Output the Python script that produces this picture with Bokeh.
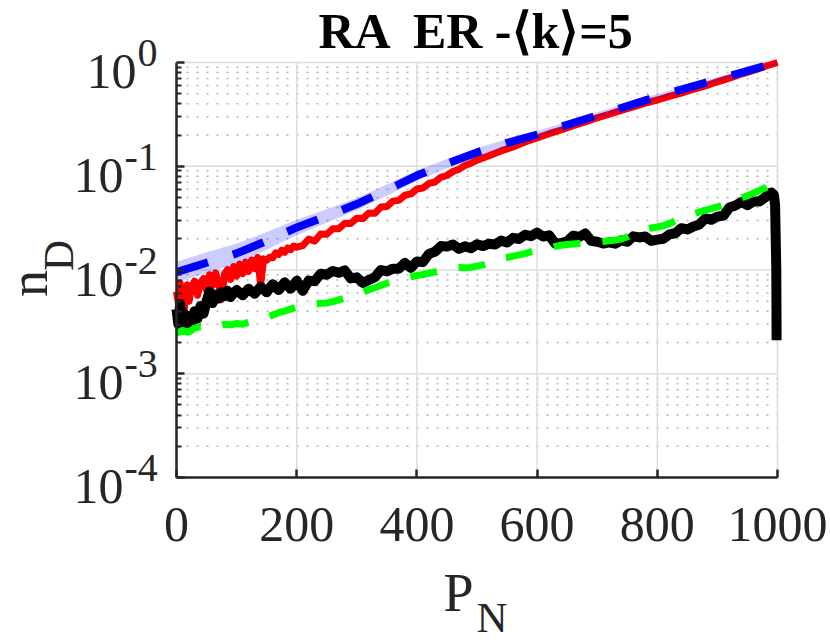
from bokeh.plotting import figure
from bokeh.models import (Range1d, FixedTicker, Label, LinearAxis, LogAxis,
                          LogScale, Grid)
from bokeh.embed import file_html
from bokeh.resources import INLINE

# ---------------- data ----------------
band_P = [0, 50, 100, 150, 200, 250, 300, 350, 400, 450, 500, 550, 600, 650,
          700, 750, 800, 850, 900, 950, 1000]
blue_vals = [0.00955, 0.01175, 0.01445, 0.01905, 0.0257, 0.0331, 0.0432, 0.0589,
             0.0813, 0.106, 0.136, 0.168, 0.202, 0.251, 0.309, 0.380, 0.470,
             0.569, 0.687, 0.832, 1.0]
band_upper = [0.0120, 0.0148, 0.0180, 0.0232, 0.0305, 0.0385, 0.0495, 0.0668,
              0.0912, 0.1175, 0.150, 0.182, 0.219, 0.269, 0.331, 0.407, 0.498,
              0.603, 0.719, 0.871, 1.0]
band_lower = [0.00759, 0.00933, 0.01161, 0.01567, 0.0216, 0.0285, 0.0376, 0.0519,
              0.0724, 0.0955, 0.1245, 0.155, 0.186, 0.234, 0.288, 0.355, 0.444,
              0.537, 0.656, 0.794, 0.955]

red_P = [0, 3, 6, 9, 12, 15, 18, 21, 25, 30, 35, 40, 45, 50, 55, 60, 65, 70, 75,
         80, 85, 90, 95, 100, 105, 110, 115, 120, 125, 130, 135, 140, 145, 150,
         155, 160, 165, 170, 175, 180, 185, 190, 195, 200, 210, 220, 230, 240,
         250, 260, 270, 280, 290, 300, 310, 320, 330, 340, 350, 360, 370, 380,
         390, 400, 410, 420, 430, 440, 450, 460, 470, 480, 490, 500, 520, 540,
         560, 580, 600, 620, 640, 660, 680, 700, 720, 740, 760, 780, 800, 820,
         840, 860, 880, 900, 920, 940, 960, 980, 1000]
red_vals = [0.0062, 0.0048, 0.0075, 0.0044, 0.0034, 0.0060, 0.0072, 0.0050,
            0.0069, 0.0078, 0.0057, 0.0075, 0.0083, 0.0064, 0.0090, 0.0071,
            0.0094, 0.0074, 0.0052, 0.0092, 0.0101, 0.0081, 0.0108, 0.0087,
            0.0114, 0.0092, 0.0119, 0.0097, 0.0125, 0.0103, 0.0132, 0.0072,
            0.0128, 0.0124, 0.0133, 0.0131, 0.0146, 0.0141, 0.0155, 0.0148,
            0.0163, 0.0157, 0.0170, 0.0166, 0.0172, 0.0199, 0.0190, 0.0222,
            0.0221, 0.0250, 0.0250, 0.0282, 0.0281, 0.0316, 0.0313, 0.0354,
            0.0352, 0.0404, 0.0409, 0.0461, 0.0469, 0.0525, 0.0541, 0.0604,
            0.0617, 0.0683, 0.0705, 0.0782, 0.0814, 0.0890, 0.0938, 0.1015,
            0.1070, 0.1145, 0.1265, 0.1405, 0.1535, 0.1715, 0.1875, 0.2060,
            0.2235, 0.2460, 0.2670, 0.2930, 0.3170, 0.3460, 0.3730, 0.4060,
            0.4350, 0.4720, 0.5060, 0.5520, 0.5960, 0.6520, 0.7060, 0.7740,
            0.8400, 0.9200, 1.0]

black_P = [0, 3, 6, 9, 12, 15, 20, 25, 30, 35, 40, 45, 50, 55, 60, 65, 70, 75,
           80, 85, 90, 95, 100, 110, 120, 130, 140, 150, 160, 170, 180, 190,
           200, 210, 220, 230, 240, 250, 260, 270, 280, 290, 300, 310, 320, 330,
           340, 350, 360, 370, 380, 390, 400, 410, 420, 430, 440, 450, 460, 470,
           480, 490, 500, 510, 520, 530, 540, 550, 560, 570, 580, 590, 600, 610,
           620, 630, 640, 650, 660, 670, 680, 690, 700, 710, 720, 730, 740, 750,
           760, 770, 780, 790, 800, 810, 820, 830, 840, 850, 860, 870, 880, 890,
           900, 910, 920, 930, 940, 950, 960, 970, 980, 985, 990, 994, 996, 998,
           998.5]
black_vals = [0.0042, 0.0030, 0.0047, 0.0028, 0.0038, 0.0032, 0.0036, 0.0029,
              0.0040, 0.0034, 0.0045, 0.0038, 0.0050, 0.0062, 0.0048, 0.0058,
              0.0053, 0.0061, 0.0056, 0.0063, 0.0055, 0.0060, 0.0064, 0.0057,
              0.0066, 0.0059, 0.0069, 0.0061, 0.0073, 0.0064, 0.0076, 0.0066,
              0.0079, 0.0063, 0.0079, 0.0078, 0.0092, 0.0090, 0.0098, 0.0094,
              0.0099, 0.0083, 0.0085, 0.0075, 0.0080, 0.0085, 0.0100, 0.0097,
              0.0103, 0.0103, 0.0117, 0.0105, 0.0121, 0.0119, 0.0143, 0.0150,
              0.0170, 0.0168, 0.0176, 0.0160, 0.0169, 0.0162, 0.0177, 0.0170,
              0.0179, 0.0176, 0.0192, 0.0184, 0.0204, 0.0199, 0.0218, 0.0212,
              0.0229, 0.0210, 0.0216, 0.0180, 0.0182, 0.0189, 0.0214, 0.0208,
              0.0225, 0.0191, 0.0187, 0.0180, 0.0185, 0.0179, 0.0194, 0.0187,
              0.0211, 0.0206, 0.0210, 0.0191, 0.0196, 0.0200, 0.0220, 0.0226,
              0.0253, 0.0246, 0.0263, 0.0275, 0.0314, 0.0305, 0.0327, 0.0334,
              0.0400, 0.0418, 0.0453, 0.0421, 0.0457, 0.0458, 0.0504, 0.0548,
              0.0558, 0.0530, 0.0420, 0.0100, 0.0021]

green_P = [0, 10, 20, 30, 40, 50, 60, 70, 80, 90, 100, 110, 120, 130, 140, 150,
           160, 170, 180, 190, 200, 210, 220, 230, 240, 250, 260, 270, 280, 290,
           300, 310, 320, 330, 340, 350, 360, 370, 380, 390, 400, 410, 420, 430,
           440, 450, 460, 470, 480, 490, 500, 510, 520, 530, 540, 550, 560, 570,
           580, 590, 600, 610, 620, 630, 640, 650, 660, 670, 680, 690, 700, 710,
           720, 730, 740, 750, 760, 770, 780, 790, 800, 810, 820, 830, 840, 850,
           860, 870, 880, 890, 900, 910, 920, 930, 940, 950, 960, 970, 980, 990,
           1000]
green_vals = [0.00245, 0.00262, 0.00250, 0.00275, 0.00285, 0.00280, 0.00295,
              0.00288, 0.00300, 0.00296, 0.00305, 0.00300, 0.00315, 0.00322,
              0.00335, 0.00350, 0.00368, 0.00388, 0.00402, 0.00420, 0.00440,
              0.00458, 0.00468, 0.00472, 0.00478, 0.00482, 0.00495, 0.00515,
              0.00535, 0.00556, 0.00580, 0.00610, 0.00645, 0.00675, 0.00710,
              0.00745, 0.00780, 0.00810, 0.00835, 0.00860, 0.00885, 0.00905,
              0.00930, 0.00960, 0.00990, 0.01030, 0.01050, 0.01055, 0.01050,
              0.01060, 0.01090, 0.01120, 0.01160, 0.01240, 0.01290, 0.01320,
              0.01360, 0.01400, 0.01440, 0.01500, 0.01560, 0.01590, 0.01640,
              0.01690, 0.01730, 0.01760, 0.01780, 0.01800, 0.01815, 0.01830,
              0.01850, 0.01880, 0.01910, 0.01940, 0.01990, 0.02080, 0.02230,
              0.02360, 0.02460, 0.02540, 0.02600, 0.02670, 0.02800, 0.02980,
              0.03150, 0.03300, 0.03460, 0.03620, 0.03780, 0.03900, 0.04050,
              0.04250, 0.04500, 0.04700, 0.04950, 0.05200, 0.05500, 0.05850,
              0.06200, 0.06750, 0.07800]

x_ticks = [0, 200, 400, 600, 800, 1000]
y_ticks = [1e-4, 1e-3, 1e-2, 1e-1, 1.0]
y_exponents = ["-4", "-3", "-2", "-1", "0"]
title_text = "RA \u00a0ER -\u27e8k\u27e9=5"
xlabel_main, xlabel_sub = "P", "N"
ylabel_main, ylabel_sub = "n", "D"

# ---------------- layout (pixels) ----------------
W, H = 828, 642
FX0, FX1 = 176, 777        # plot box left/right on the canvas
FY0, FY1 = 62, 477         # plot box top/bottom on the canvas
X_MIN, X_MAX = 0, 1000
Y_MIN_EXP, Y_MAX_EXP = -4, 0
upx = (X_MAX - X_MIN) / (FX1 - FX0)
dpx = (Y_MAX_EXP - Y_MIN_EXP) / (FY1 - FY0)
x_range = Range1d(X_MIN - FX0 * upx, X_MAX + (W - FX1) * upx)
y_range = Range1d(10 ** (Y_MIN_EXP - (H - FY1) * dpx), 10 ** (Y_MAX_EXP + FY0 * dpx))

FONT = "Liberation Serif"
TXT = "#262626"

p = figure(width=W, height=H, x_range=x_range, y_range=y_range,
           y_axis_type="log", x_axis_location=None, y_axis_location=None,
           output_backend="svg", toolbar_location=None)
p.y_scale = LogScale()
p.min_border = 0
p.min_border_left = p.min_border_right = p.min_border_top = p.min_border_bottom = 0
p.outline_line_color = None
p.background_fill_color = "white"
p.border_fill_color = "white"
p.renderers = [r for r in p.renderers if not isinstance(r, Grid)]
p.center = [r for r in p.center if not isinstance(r, Grid)]

# ---------------- grid (bounded to the plot box) ----------------
y_lo, y_hi = 10.0 ** Y_MIN_EXP, 10.0 ** Y_MAX_EXP
minor = [m * 10.0 ** e for e in range(Y_MIN_EXP, Y_MAX_EXP) for m in range(2, 10)]
p.segment(x0=[X_MIN] * len(minor), x1=[X_MAX] * len(minor), y0=minor, y1=minor,
          line_color="#b4b4b4", line_width=1.5, line_dash="2 8")
p.segment(x0=[X_MIN] * len(y_ticks), x1=[X_MAX] * len(y_ticks), y0=y_ticks,
          y1=y_ticks, line_color="#dcdcdc", line_width=1.5)
p.segment(x0=x_ticks, x1=x_ticks, y0=[y_lo] * len(x_ticks),
          y1=[y_hi] * len(x_ticks), line_color="#dcdcdc", line_width=1.5)

# ---------------- data glyphs ----------------
p.line(red_P, red_vals, line_color="#ff0000", line_width=7, line_join="round",
       line_cap="butt")
p.line(black_P, black_vals, line_color="#000000", line_width=10, line_join="round",
       line_cap="butt")
p.line(green_P, green_vals, line_color="#00ff00", line_width=7, line_dash="27 22",
       line_cap="butt")
p.varea(x=band_P, y1=band_lower, y2=band_upper, fill_color="#0000ff", fill_alpha=0.2)
p.line(band_P, blue_vals, line_color="#0000ff", line_width=8, line_dash="33 26",
       line_cap="butt")

# ---------------- axes ----------------
xaxis = LinearAxis(fixed_location=y_lo, bounds=(X_MIN, X_MAX),
                   ticker=FixedTicker(ticks=x_ticks, minor_ticks=[]))
yaxis = LogAxis(fixed_location=X_MIN, bounds=(y_lo, y_hi),
                ticker=FixedTicker(ticks=y_ticks, minor_ticks=minor))
for ax in (xaxis, yaxis):
    ax.axis_line_color = TXT
    ax.axis_line_width = 2.5
    ax.major_tick_line_color = TXT
    ax.major_tick_line_width = 2.5
    ax.minor_tick_line_color = TXT
    ax.minor_tick_line_width = 2
    ax.major_tick_out = 0
    ax.major_tick_in = 8
    ax.minor_tick_out = 0
    ax.minor_tick_in = 5
xaxis.major_label_text_font = FONT
xaxis.major_label_text_font_size = "50px"
xaxis.major_label_text_color = TXT
xaxis.major_label_standoff = 30
yaxis.major_label_text_font_size = "0px"
yaxis.major_label_text_color = None
p.add_layout(xaxis, "below")
p.add_layout(yaxis, "left")

# ---------------- texts ----------------
BASE_FIX = 0.36   # measured shift of the rendered baseline, in em


def lab(x, y, xo, yo, text, size, align="left", bold=False, vertical=False,
        color=TXT):
    shift = BASE_FIX * size
    if vertical:
        xo, angle = xo - shift, 1.5708
    else:
        yo, angle = yo + shift, 0.0
    p.add_layout(Label(x=x, y=y, x_offset=xo, y_offset=yo, text=text,
                       text_font=FONT, text_font_size=f"{size}px", angle=angle,
                       text_font_style="bold" if bold else "normal",
                       text_color=color, text_align=align,
                       text_baseline="alphabetic"))


lab((X_MIN + X_MAX) / 2, y_hi, 0, 14, title_text, 50, align="center",
    bold=True, color="black")

for val, ex in zip(y_ticks, y_exponents):
    neg = ex.startswith("-")
    lab(X_MIN, val, -53 if neg else -40, -27, "10", 50, align="right")
    lab(X_MIN, val, -52 if neg else -39, -5, ex, 40, align="left")

lab(X_MIN, y_lo, 267, -135, xlabel_main, 54)
lab(X_MIN, y_lo, 300, -155, xlabel_sub, 43)
lab(X_MIN, 1e-2, -128, -27, ylabel_main, 54, vertical=True)
lab(X_MIN, 1e-2, -103, -1, ylabel_sub, 43, vertical=True)

open("out.html", "w").write(file_html(p, INLINE))
